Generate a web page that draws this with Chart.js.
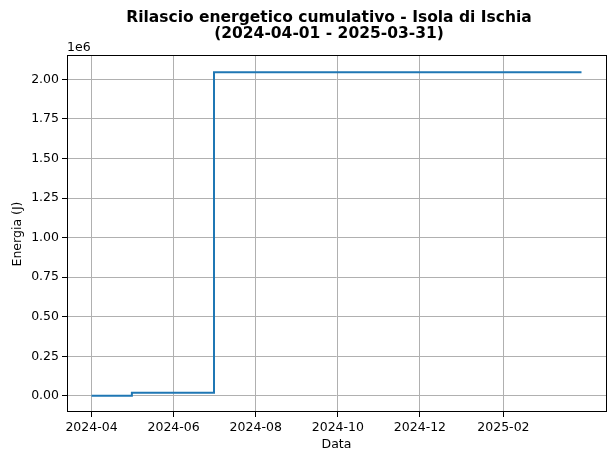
<!DOCTYPE html>
<html><head><meta charset="utf-8">
<script src="https://cdn.jsdelivr.net/npm/chart.js@4"></script>
<style>html,body{margin:0;padding:0;background:#fff}#wrap{width:607px;height:454px}</style>
</head><body><div id="wrap"><canvas id="c" width="607" height="454"></canvas></div>
<script>
const dates = ["2024-04-01", "2024-05-01", "2024-07-01", "2025-03-31"];
const energy = [0, 19000, 2046000, 2046000];
const xTickDates = ["2024-04-01", "2024-06-01", "2024-08-01", "2024-10-01", "2024-12-01", "2025-02-01"];
const yTicks = [0, 250000, 500000, 750000, 1000000, 1250000, 1500000, 1750000, 2000000];
const titleLines = ["Rilascio energetico cumulativo - Isola di Ischia", "(2024-04-01 - 2025-03-31)"];

const ts = d => Date.parse(d + "T00:00:00Z");
const xMin = ts(dates[0]), xMax = ts(dates[dates.length - 1]);
const xPad = (xMax - xMin) * 0.05;
const FONT = "'DejaVu Sans', sans-serif";

const frame = {
  id: 'frame',
  afterDraw(chart) {
    const {ctx, chartArea: a} = chart;
    ctx.save();
    ctx.strokeStyle = '#000'; ctx.lineWidth = 1;
    ctx.strokeRect(Math.round(a.left) + 0.5, Math.round(a.top) - 0.5, Math.round(a.right - a.left), Math.round(a.bottom - a.top));
    ctx.fillStyle = '#000';
    ctx.textAlign = 'center'; ctx.textBaseline = 'alphabetic';
    ctx.font = "bold 15.5px " + FONT;
    const cx = (a.left + a.right) / 2 - 7.5;
    ctx.fillText(titleLines[0], cx, 22);
    ctx.fillText(titleLines[1], cx, 38);
    ctx.font = "12.5px " + FONT;
    ctx.textAlign = 'left';
    ctx.fillText("1e6", a.left, a.top - 5);
    ctx.restore();
  }
};

new Chart(document.getElementById('c'), {
  type: 'line',
  data: {
    datasets: [{
      data: dates.map((d, i) => ({x: ts(d), y: energy[i]})),
      borderColor: '#1f77b4', borderWidth: 2, pointRadius: 0, stepped: 'before', fill: false, tension: 0
    }]
  },
  options: {
    responsive: false, animation: false, devicePixelRatio: 1,
    layout: {padding: {top: 56, right: 1, left: 10, bottom: 0}},
    plugins: {legend: {display: false}, title: {display: false}, tooltip: {enabled: false}},
    scales: {
      x: {
        type: 'linear', min: xMin - xPad, max: xMax + xPad,
        afterBuildTicks: s => { s.ticks = xTickDates.map(d => ({value: ts(d)})); },
        afterFit: s => { s.height = 42; },
        ticks: {
          color: '#000', font: {family: FONT, size: 12.5}, padding: 3, maxRotation: 0, autoSkip: false,
          callback: v => { const d = new Date(v); return d.getUTCFullYear() + '-' + String(d.getUTCMonth() + 1).padStart(2, '0'); }
        },
        grid: {color: '#b0b0b0', lineWidth: 1, tickColor: '#000', tickLength: 5, drawOnChartArea: true},
        border: {display: false},
        title: {display: true, text: 'Data', color: '#000', font: {family: FONT, size: 12.5}, padding: {top: 0, bottom: 2}}
      },
      y: {
        type: 'linear', min: -102000, max: 2148000,
        afterBuildTicks: s => { s.ticks = yTicks.map(v => ({value: v})); },
        afterFit: s => { s.width = 57; },
        ticks: {
          color: '#000', font: {family: FONT, size: 12.5}, padding: 3,
          callback: v => (v / 1e6).toFixed(2)
        },
        grid: {color: '#b0b0b0', lineWidth: 1, tickColor: '#000', tickLength: 5},
        border: {display: false},
        title: {display: true, text: 'Energia (J)', color: '#000', font: {family: FONT, size: 12.5}, padding: {top: 0, bottom: 0}}
      }
    }
  },
  plugins: [frame]
});
</script></body></html>
